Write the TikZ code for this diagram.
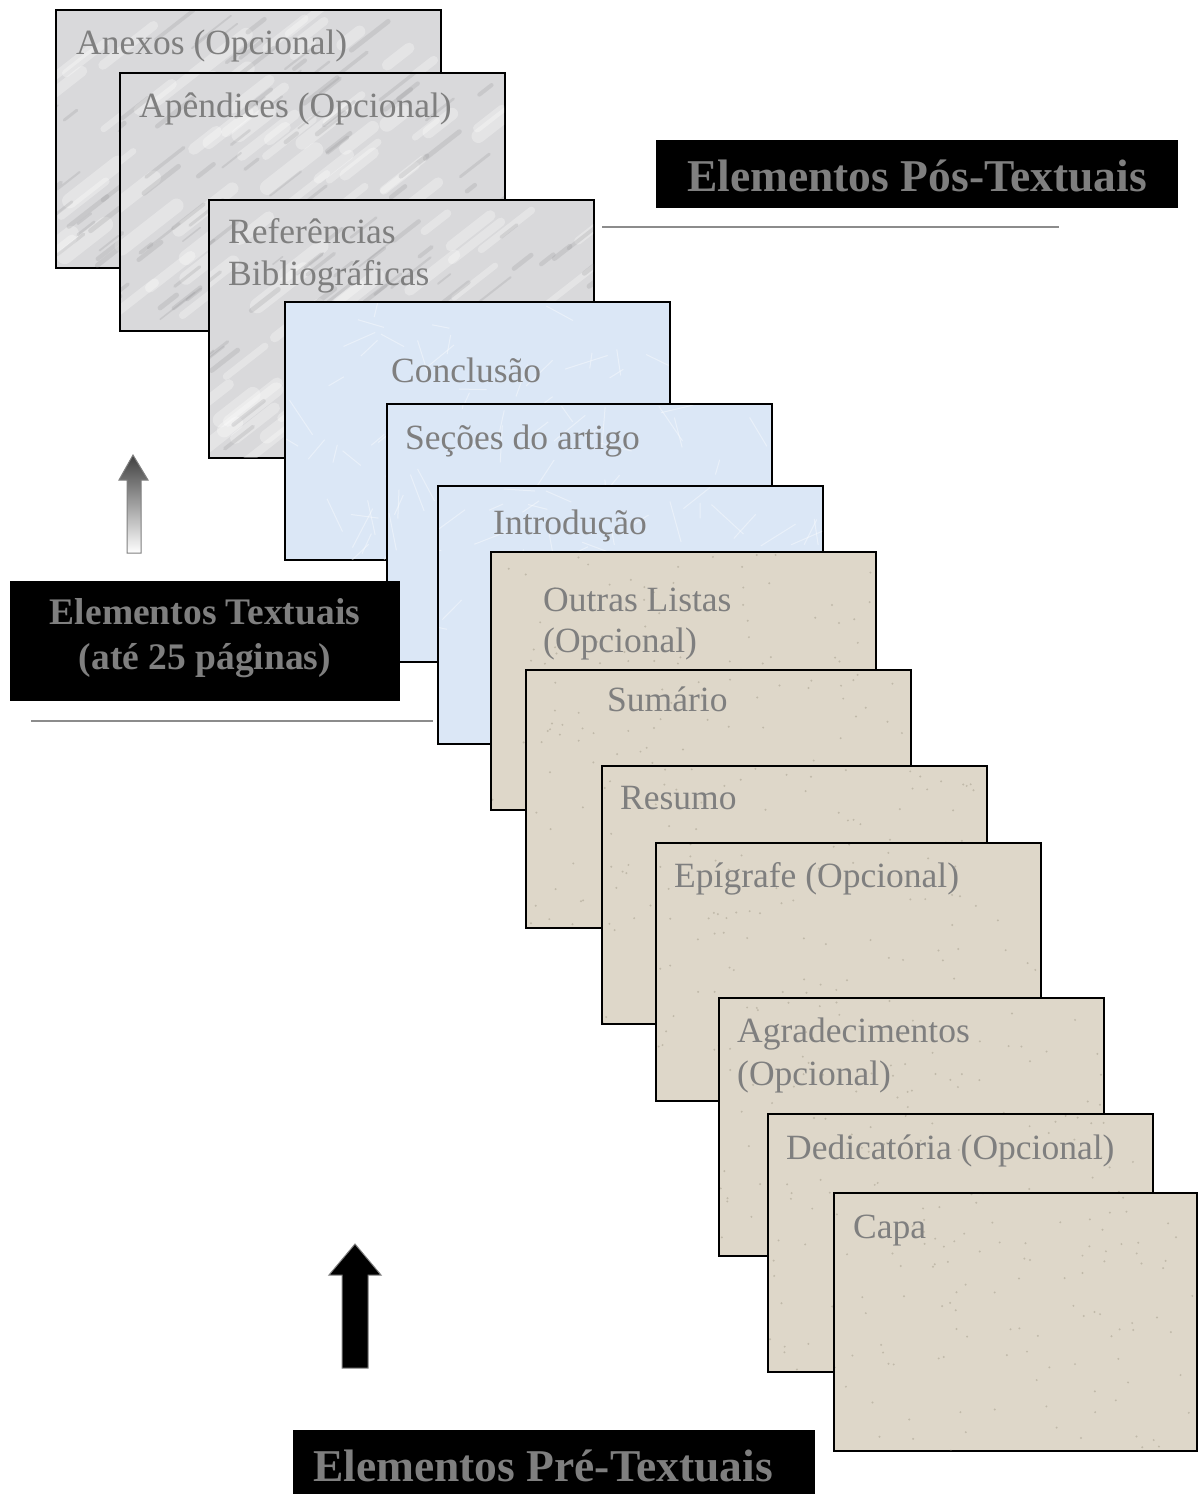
\documentclass[tikz,border=0pt]{standalone}
\usepackage{fontspec}
\setmainfont{Liberation Serif}
\usetikzlibrary{calc}
\definecolor{labelgray}{HTML}{7F7F7F}
\definecolor{marbleC}{HTML}{D9D9DB}
\definecolor{streakC}{HTML}{8E8E92}
\definecolor{blueC}{HTML}{DBE7F6}
\definecolor{beigeC}{HTML}{DED7C9}
\definecolor{dotC}{HTML}{8A8270}
\definecolor{rulegray}{HTML}{8C8C8C}
\tikzset{
  page/.style={draw=black, line width=2pt, inner sep=0pt, outer sep=0pt, anchor=north west,
    minimum width=385pt, minimum height=258pt},
  marblepage/.style={page, fill=marbleC},
  bluepage/.style={page, fill=blueC},
  beigepage/.style={page, fill=beigeC},
  lbl/.style={anchor=base west, inner sep=0pt, text=labelgray, font=\fontsize{35.5}{42}\selectfont},
  bannerbox/.style={fill=black, draw=none, inner sep=0pt, outer sep=0pt, anchor=north west},
  bigtitle/.style={inner sep=0pt, text=labelgray, font=\fontsize{45.5}{50}\selectfont\bfseries},
  midtitle/.style={inner sep=0pt, text=labelgray, font=\fontsize{37.5}{45}\selectfont\bfseries, anchor=base},
  rule/.style={draw=rulegray, line width=2pt},
}
\newcommand\marbletex[3]{%
  \begin{scope}
    \clip (#1+1,#2+1) rectangle (#1+#3-1,#2+257);
    \foreach \k in {1,...,45}{
      \pgfmathsetmacro\px{#1-40+(#3+40)*rnd}
      \pgfmathsetmacro\py{#2+20+258*rnd}
      \pgfmathsetmacro\ln{20+50*rnd}
      \pgfmathsetmacro\lw{6+10*rnd}
      \draw[line width=\lw pt, color=white, opacity=0.30, line cap=round] (\px,\py) -- ++(-38:\ln);
    }
    \foreach \k in {1,...,80}{
      \pgfmathsetmacro\px{#1-40+(#3+40)*rnd}
      \pgfmathsetmacro\py{#2+20+258*rnd}
      \pgfmathsetmacro\ln{10+40*rnd}
      \pgfmathsetmacro\lw{1.5+3.5*rnd}
      \draw[line width=\lw pt, color=streakC, opacity=0.22, line cap=round] (\px,\py) -- ++(-38:\ln);
    }
  \end{scope}}
\newcommand\bluetex[3]{%
  \begin{scope}
    \clip (#1+1,#2+1) rectangle (#1+#3-1,#2+257);
    \foreach \k in {1,...,70}{
      \pgfmathsetmacro\px{#1+#3*rnd}
      \pgfmathsetmacro\py{#2+258*rnd}
      \pgfmathsetmacro\an{360*rnd}
      \pgfmathsetmacro\ln{15+30*rnd}
      \draw[line width=1pt, color=white, opacity=0.4] (\px,\py) -- ++(\an:\ln);
    }
  \end{scope}}
\newcommand\beigetex[3]{%
  \begin{scope}
    \clip (#1+1,#2+1) rectangle (#1+#3-1,#2+257);
    \foreach \k in {1,...,110}{
      \pgfmathsetmacro\px{#1+#3*rnd}
      \pgfmathsetmacro\py{#2+258*rnd}
      \fill[dotC, opacity=0.35] (\px,\py) circle (1.1);
    }
  \end{scope}}
\begin{document}
\begin{tikzpicture}[x=1pt,y=-1pt]
\pgfmathsetseed{7}
\useasboundingbox (0,0) rectangle (1199,1494);
\fill[white] (0,0) rectangle (1199,1494);

% ---- post-textual pages (marble)
\node[marblepage] (anexos) at (56,10) {};
\marbletex{56}{10}{385}
\node[lbl] (tanexos) at (76,54) {Anexos (Opcional)};

\node[marblepage] (apendices) at (120,73) {};
\marbletex{120}{73}{385}
\node[lbl] (tapendices) at (139,117) {Apêndices (Opcional)};

\node[marblepage] (referencias) at (209,200) {};
\marbletex{209}{200}{385}
\node[lbl] (treferencias) at (228,243) {Referências};
\node[lbl] (tbibliograficas) at (228,285) {Bibliográficas};

% ---- textual pages (blue)
\node[bluepage] (conclusao) at (285,302) {};
\bluetex{285}{302}{385}
\node[lbl] (tconclusao) at (391,382) {Conclusão};

\node[bluepage] (secoes) at (387,404) {};
\bluetex{387}{404}{385}
\node[lbl] (tsecoes) at (405,449) {Seções do artigo};

\node[bluepage] (introducao) at (438,486) {};
\bluetex{438}{486}{385}
\node[lbl] (tintroducao) at (493,534) {Introdução};

% ---- pre-textual pages (beige)
\node[beigepage] (outras) at (491,552) {};
\beigetex{491}{552}{385}
\node[lbl] (toutras) at (543,611) {Outras Listas};
\node[lbl] (toutrasopc) at (543,652) {(Opcional)};

\node[beigepage] (sumario) at (526,670) {};
\beigetex{526}{670}{385}
\node[lbl] (tsumario) at (607,711) {Sumário};

\node[beigepage] (resumo) at (602,766) {};
\beigetex{602}{766}{385}
\node[lbl] (tresumo) at (620,809) {Resumo};

\node[beigepage] (epigrafe) at (656,843) {};
\beigetex{656}{843}{385}
\node[lbl] (tepigrafe) at (674,887) {Epígrafe (Opcional)};

\node[beigepage] (agradecimentos) at (719,998) {};
\beigetex{719}{998}{385}
\node[lbl] (tagradecimentos) at (737,1042) {Agradecimentos};
\node[lbl] (tagradopc) at (737,1085) {(Opcional)};

\node[beigepage] (dedicatoria) at (768,1114) {};
\beigetex{768}{1114}{385}
\node[lbl] (tdedicatoria) at (786,1159) {Dedicatória (Opcional)};

\node[beigepage, minimum width=363pt] (capa) at (834,1193) {};
\beigetex{834}{1193}{363}
\node[lbl] (tcapa) at (853,1238) {Capa};

% ---- banners
\node[bannerbox, minimum width=522pt, minimum height=68pt] (posbox) at (656,140) {};
\node[bigtitle, anchor=base] (postitle) at (917,191) {Elementos Pós-Textuais};
\draw[rule] (602,227) -- (1059,227);

\node[bannerbox, minimum width=390pt, minimum height=120pt] (txtbox) at (10,581) {};
\node[midtitle] (txttitle1) at (205,624) {Elementos Textuais};
\node[midtitle] (txttitle2) at (205,669) {(até 25 páginas)};
\draw[rule] (31,721) -- (433,721);

\node[bannerbox, minimum width=522pt, minimum height=64pt] (prebox) at (293,1430) {};
\node[bigtitle, anchor=base west] (pretitle) at (313,1481) {Elementos Pré-Textuais};

% ---- arrows
\shade[top color=black!75, bottom color=white, draw=gray, line width=1pt]
  (133,455) -- (148,480) -- (141,480) -- (141,553) -- (127,553) -- (127,480) -- (119,480) -- cycle;
\fill[black, draw=gray, line width=1pt]
  (355,1244) -- (381,1275) -- (368,1275) -- (368,1368) -- (342,1368) -- (342,1275) -- (329,1275) -- cycle;
\end{tikzpicture}
\end{document}
